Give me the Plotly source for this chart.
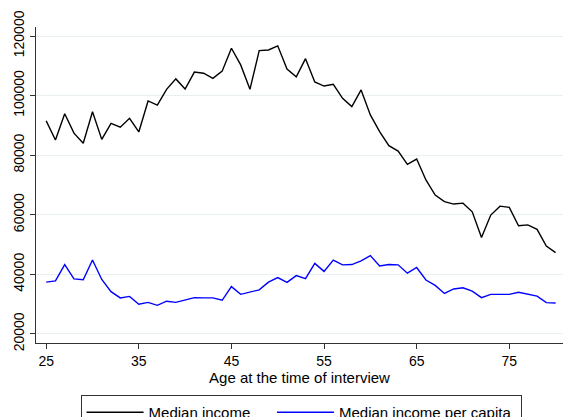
import plotly.graph_objects as go

ages = list(range(25, 81))
median_income = [
    91500, 85100, 93900, 87400, 84000, 94600, 85300, 90700, 89400, 92400,
    87800, 98200, 96800, 102100, 105600, 102200, 107900, 107500, 105800, 108200,
    115900, 110300, 102100, 115100, 115300, 116700, 108900, 106300, 112400, 104600,
    103200, 103800, 99100, 96300, 101900, 93500, 87900, 83200, 81400, 76900,
    78700, 71700, 66600, 64400, 63600, 63900, 61000, 52400, 59900, 62900,
    62500, 56300, 56600, 55100, 49500, 47300,
]
median_income_pc = [
    37400, 37800, 43300, 38500, 38200, 44800, 38300, 34200, 32100, 32600,
    30000, 30600, 29600, 31000, 30600, 31300, 32200, 32100, 32100, 31300,
    35900, 33300, 34000, 34800, 37400, 38900, 37300, 39600, 38600, 43700,
    41000, 44800, 43200, 43300, 44500, 46300, 42800, 43300, 43200, 40400,
    42300, 38100, 36300, 33600, 35100, 35500, 34400, 32200, 33300, 33300,
    33300, 34000, 33300, 32700, 30500, 30400,
]
x_ticks = [25, 35, 45, 55, 65, 75]
y_ticks = [20000, 40000, 60000, 80000, 100000, 120000]
y_tick_labels = [str(v) for v in y_ticks]
series_names = ["Median income", "Median income per capita"]

NB = "\u00a0"
font = "Liberation Sans, Arial, sans-serif"
fig = go.Figure()
fig.add_trace(go.Scatter(x=ages, y=median_income, mode="lines", name=series_names[0] + NB * 4,
                         line=dict(color="black", width=1.4)))
fig.add_trace(go.Scatter(x=ages, y=median_income_pc, mode="lines", name=series_names[1] + NB,
                         line=dict(color="#0000ff", width=1.4)))

fig.update_layout(
    width=563, height=417,
    margin=dict(l=36, r=0, t=27, b=74, autoexpand=False),
    paper_bgcolor="white", plot_bgcolor="white",
    font=dict(family=font, size=14, color="black"),
    showlegend=True,
    legend=dict(orientation="h", xref="paper", yref="container", x=0.503, xanchor="center",
                y=1 - 395 / 417, yanchor="top", bordercolor="#333333", borderwidth=1,
                bgcolor="white", font=dict(size=15), itemwidth=57),
    xaxis=dict(range=[23.9, 80.8], tickvals=x_ticks, showgrid=False, zeroline=False,
               showline=True, linecolor="#333333", linewidth=1, ticks="outside",
               ticklen=5, tickcolor="#333333", automargin=False,
               title=dict(text="Age at the time of interview", standoff=2, font=dict(size=15))),
    yaxis=dict(range=[16970, 123020], tickvals=y_ticks, ticktext=y_tick_labels, tickangle=-90,
               showgrid=True, gridcolor="#e8f0f2", gridwidth=1, zeroline=False,
               showline=True, linecolor="#333333", linewidth=1, ticks="outside",
               ticklen=5, tickcolor="#333333", automargin=False),
)
fig.write_html("out.html", config={"displayModeBar": False},
               post_script="document.body.style.margin='0';document.body.style.overflow='hidden';")
